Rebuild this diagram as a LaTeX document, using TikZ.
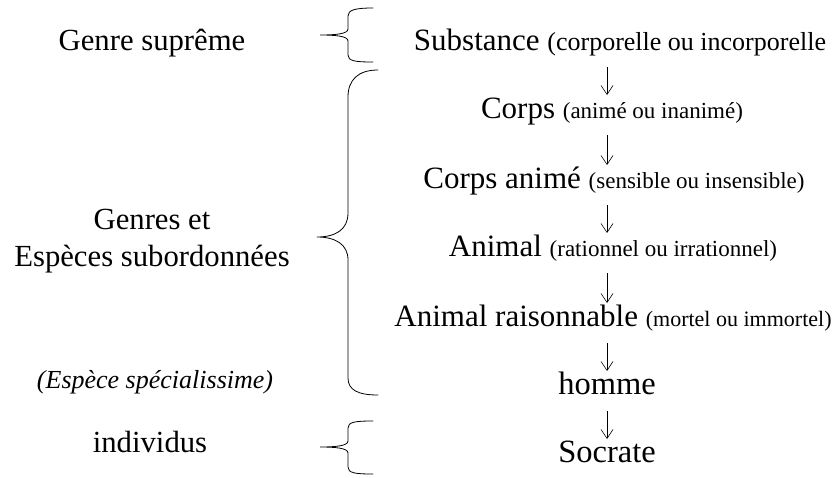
\documentclass[tikz,border=0pt]{standalone}
\usepackage{fontspec}
\setmainfont{Liberation Serif}
\usetikzlibrary{arrows.meta,calc}

\newcommand{\qual}[2][23]{{\fontsize{#1}{27}\selectfont#2}}

\begin{document}
\begin{tikzpicture}[x=1pt,y=-1pt,
  label/.style={anchor=base,inner sep=0pt,font=\fontsize{30.7}{37}\selectfont,align=center},
  item/.style={anchor=base,inner sep=0pt,font=\fontsize{31}{36}\selectfont},
  leaf/.style={anchor=base,inner sep=0pt,font=\fontsize{32.5}{38}\selectfont},
  arr/.style={line width=0.6pt,-{Straight Barb[length=9pt,width=12pt,line width=0.6pt]}},
  brace/.style={line width=0.8pt,line cap=round}]
\useasboundingbox (0,0) rectangle (834,477);

% left-hand labels
\node[label] (sup) at (152,50) {Genre suprême};
\node[label] (gen) at (152,266) {Genres et\\Espèces subordonnées};
\node[anchor=base,inner sep=0pt,font=\fontsize{26}{30}\selectfont\itshape] (spe) at (155,388) {(Espèce spécialissime)};
\node[label] (ind) at (150,452) {individus};

% chain of genera and species
\node[item] (sub) at (620,50) {Substance \qual[26]{(corporelle ou incorporelle}};
\node[item] (cor) at (612,118) {Corps \qual{(animé ou inanimé)}};
\node[item] (ani) at (614,188) {Corps animé \qual{(sensible ou insensible)}};
\node[item] (anl) at (613,256) {Animal \qual{(rationnel ou irrationnel)}};
\node[item] (rai) at (613,326) {Animal raisonnable \qual[22]{(mortel ou immortel)}};
\node[leaf] (hom) at (607,394) {homme};
\node[leaf] (soc) at (607,462) {Socrate};

\coordinate (ax) at (607,0);
\foreach \a/\b in {sub/cor,cor/ani,ani/anl,anl/rai,rai/hom,hom/soc}
  \draw[arr] ($(\a.base -| ax)+(0,17)$) -- ($(\b.base -| ax)+(0,-23)$);

% braces
\draw[brace] (373,8) .. controls (355,8) and (348,10) .. (348,16) -- (348,29)
  .. controls (348,34) and (335,35) .. (320,35)
  .. controls (335,35) and (348,36) .. (348,41) -- (348,55)
  .. controls (348,61) and (355,62) .. (373,62);
\draw[brace] (378,70) .. controls (358,70) and (348,80) .. (348,97) -- (348,213)
  .. controls (348,230) and (335,237) .. (317,237)
  .. controls (335,237) and (348,244) .. (348,260) -- (348,378)
  .. controls (348,390) and (358,395) .. (378,395);
\draw[brace] (373,421) .. controls (355,421) and (348,422) .. (348,428) -- (348,441)
  .. controls (348,446) and (335,447) .. (320,447)
  .. controls (335,447) and (348,448) .. (348,453) -- (348,467)
  .. controls (348,473) and (355,474) .. (373,474);
\end{tikzpicture}
\end{document}
